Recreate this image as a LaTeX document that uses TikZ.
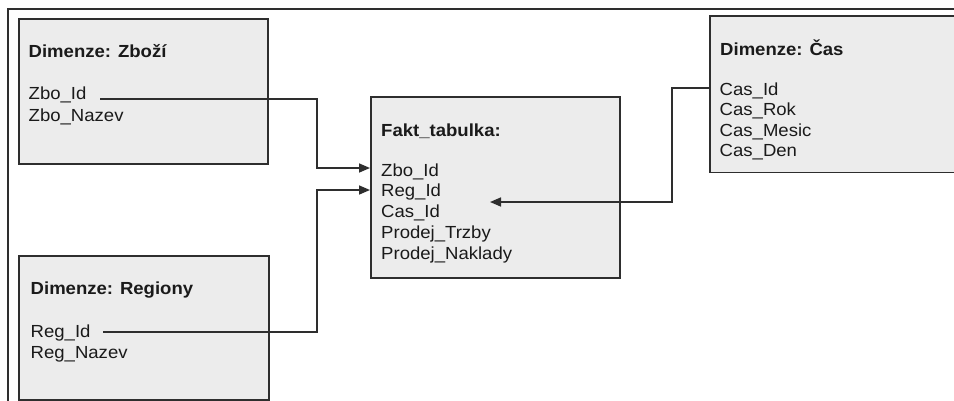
\documentclass[tikz,border=0pt]{standalone}
\usepackage{fontspec}
\setmainfont{Liberation Sans}[FakeStretch=1.06]
\usetikzlibrary{arrows.meta}
\definecolor{boxfill}{HTML}{ECECEC}
\definecolor{linec}{HTML}{2E2E2E}
\definecolor{txtc}{HTML}{1A1A1A}
\begin{document}
\begin{tikzpicture}[x=1pt,y=-1pt,
  box/.style={draw=linec, line width=1.7pt, fill=boxfill, inner sep=0pt, anchor=north west},
  openbox/.style={draw=none, fill=boxfill, inner sep=0pt, anchor=north west},
  border/.style={draw=linec, line width=1.7pt},
  conn/.style={draw=linec, line width=1.6pt},
  arr/.style={conn, -{Triangle[length=11pt,width=9pt]}},
  ttl/.style={anchor=base west, inner sep=0pt, text=txtc, font=\fontsize{17.5}{21}\selectfont\bfseries},
  fld/.style={anchor=base west, inner sep=0pt, text=txtc, font=\fontsize{17.5}{21}\selectfont},
]
\useasboundingbox (0,0) rectangle (954,400);
% outer frame
\coordinate (fa) at (8,405);
\coordinate (fb) at (8,9);
\coordinate (fc) at (960,9);
\draw[conn] (fa) -- (fb) -- (fc);

% boxes
\node[box, minimum width=249pt, minimum height=145pt] (zbozi) at (18,18) {};
\node[box, minimum width=249pt, minimum height=181pt] (fakt) at (370,96) {};
\node[openbox, minimum width=250pt, minimum height=156pt] (cas) at (710,16) {};
\draw[border] (cas.north east) -- (cas.north west) -- (cas.south west) -- (cas.south east);
\node[box, minimum width=250pt, minimum height=144pt] (reg) at (18,255) {};

% Zbozi texts
\node[ttl] (zt0) at (28.5,57) {Dimenze: Zboží};
\node[fld] (zf1) at (28.5,99.5) {Zbo\_Id};
\node[fld] (zf2) at (28.5,121) {Zbo\_Nazev};

% Fakt texts
\node[ttl] (ft0) at (381,136) {Fakt\_tabulka:};
\node[fld] (ff1) at (381,176) {Zbo\_Id};
\node[fld] (ff2) at (381,196.5) {Reg\_Id};
\node[fld] (ff3) at (381,217.5) {Cas\_Id};
\node[fld] (ff4) at (381,238) {Prodej\_Trzby};
\node[fld] (ff5) at (381,259) {Prodej\_Naklady};

% Cas texts
\node[ttl] (ct0) at (720,55) {Dimenze: Čas};
\node[fld] (cf1) at (719.5,95) {Cas\_Id};
\node[fld] (cf2) at (719.5,115.5) {Cas\_Rok};
\node[fld] (cf3) at (719.5,136) {Cas\_Mesic};
\node[fld] (cf4) at (719.5,156.5) {Cas\_Den};

% Regiony texts
\node[ttl] (rt0) at (30.5,294) {Dimenze: Regiony};
\node[fld] (rf1) at (30.5,337.5) {Reg\_Id};
\node[fld] (rf2) at (30.5,358) {Reg\_Nazev};

% connectors
\coordinate (xm) at (317,0);
\coordinate (xc) at (672,0);
\coordinate (zs) at (100,99);
\coordinate (rs) at (103,332);
\coordinate (cs) at (710,88);
\coordinate (ctg) at (490,202);
\draw[arr] (zs) -- (zs -| xm) |- (fakt.west |- 0,168);
\draw[arr] (rs) -- (rs -| xm) |- (fakt.west |- 0,190);
\draw[arr] (cas.west |- cs) -- (cs -| xc) |- (ctg);
\end{tikzpicture}
\end{document}
